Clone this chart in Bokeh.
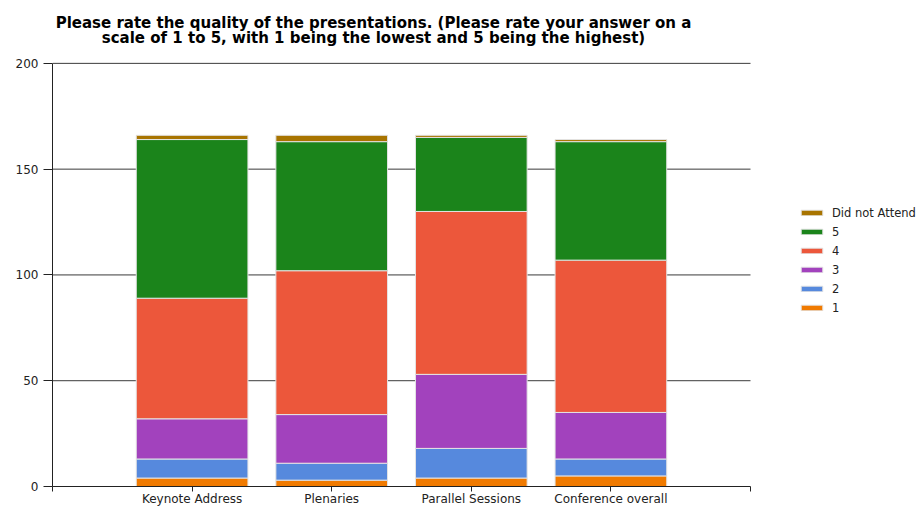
from bokeh.plotting import figure
from bokeh.models import ColumnDataSource, Legend, LegendItem, Label, FixedTicker, Range1d
from bokeh.embed import file_html
from bokeh.resources import INLINE

categories = ["Keynote Address", "Plenaries", "Parallel Sessions", "Conference overall"]
rating_1 = [4, 3, 4, 5]
rating_2 = [9, 8, 14, 8]
rating_3 = [19, 23, 35, 22]
rating_4 = [57, 68, 77, 72]
rating_5 = [75, 61, 35, 56]
did_not_attend = [2, 3, 1, 1]
series_names = ["1", "2", "3", "4", "5", "Did not Attend"]
y_ticks = [0, 50, 100, 150, 200]
title_line1 = "Please rate the quality of the presentations. (Please rate your answer on a"
title_line2 = "scale of 1 to 5, with 1 being the lowest and 5 being the highest)"

colors = ["#f07a00", "#5689dd", "#a242bd", "#ec573b", "#1b841b", "#a87400"]
keys = ["r1", "r2", "r3", "r4", "r5", "dna"]

n = len(categories)
positions = list(range(1, n + 1))
source = ColumnDataSource(dict(x=positions, r1=rating_1, r2=rating_2, r3=rating_3,
                               r4=rating_4, r5=rating_5, dna=did_not_attend))

FONT = "DejaVu Sans"

# layout: the frame spans the whole width right of the y axis and the whole height above
# the x axis; the drawn axis/grid occupy x in [0, n+1] (698 px) and y in [0, 200] (424 px)
FRAME_W = 921 - 52
FRAME_H = 487
x_end = (n + 1) * FRAME_W / 698.0
y_end = 200 * FRAME_H / 424.0

p = figure(width=921, height=508, x_range=Range1d(0, x_end), y_range=Range1d(0, y_end),
           output_backend="svg", toolbar_location=None,
           min_border_left=52, min_border_right=0, min_border_top=0, min_border_bottom=19)
p.title_location = None
p.outline_line_color = None
p.background_fill_color = "white"
p.border_fill_color = "white"

# horizontal grid lines limited to the axis extent
p.xgrid.visible = False
p.ygrid.visible = False
grid_ticks = [t for t in y_ticks if t > 0]
p.segment(x0=[0] * len(grid_ticks), x1=[n + 1] * len(grid_ticks), y0=grid_ticks, y1=grid_ticks,
          line_color="#3a3a3a", line_width=1)

renderers = p.vbar_stack(keys, x="x", width=0.8, color=colors, line_color="#e4e4e4",
                         line_width=1, source=source)

# y axis
p.yaxis.bounds = (0, 200)
p.yaxis.ticker = FixedTicker(ticks=y_ticks)
p.yaxis.major_tick_out = 9
p.yaxis.major_tick_in = 0
p.yaxis.minor_tick_line_color = None
p.yaxis.axis_line_color = "#222222"
p.yaxis.major_tick_line_color = "#222222"
p.yaxis.major_label_standoff = 5
p.yaxis.major_label_text_font = FONT
p.yaxis.major_label_text_font_size = "12px"
p.yaxis.major_label_text_color = "#222222"

# x axis
p.xaxis.bounds = (0, n + 1)
p.xaxis.ticker = FixedTicker(ticks=[0] + positions + [n + 1])
overrides = {0: "", n + 1: ""}
for i, c in zip(positions, categories):
    overrides[i] = c
p.xaxis.major_label_overrides = overrides
p.xaxis.major_tick_out = 5
p.xaxis.major_tick_in = 0
p.xaxis.minor_tick_line_color = None
p.xaxis.axis_line_color = "#222222"
p.xaxis.major_tick_line_color = "#222222"
p.xaxis.major_label_standoff = 0
p.xaxis.major_label_text_font = FONT
p.xaxis.major_label_text_font_size = "12px"
p.xaxis.major_label_text_color = "#222222"

# two-line title, centred at x = 373 px of the page
for txt, y in ((title_line1, FRAME_H - 23.5), (title_line2, FRAME_H - 38.5)):
    p.add_layout(Label(x=373 - 52, y=y, x_units="screen", y_units="screen", text=txt,
                       text_align="center", text_baseline="alphabetic", text_font=FONT,
                       text_font_size="15px", text_font_style="bold", text_color="#000000"))

# legend
items = [LegendItem(label=name, renderers=[r]) for name, r in zip(series_names, renderers)]
items = items[::-1]
legend = Legend(items=items, location=(746, 169.5), glyph_width=27, glyph_height=7,
                label_standoff=7, label_height=18, spacing=1, padding=0, margin=0,
                border_line_color=None, background_fill_alpha=0,
                label_text_font=FONT, label_text_font_size="11.5px", label_text_color="#222222")
p.add_layout(legend)

open("out.html", "w").write(file_html(p, INLINE))
